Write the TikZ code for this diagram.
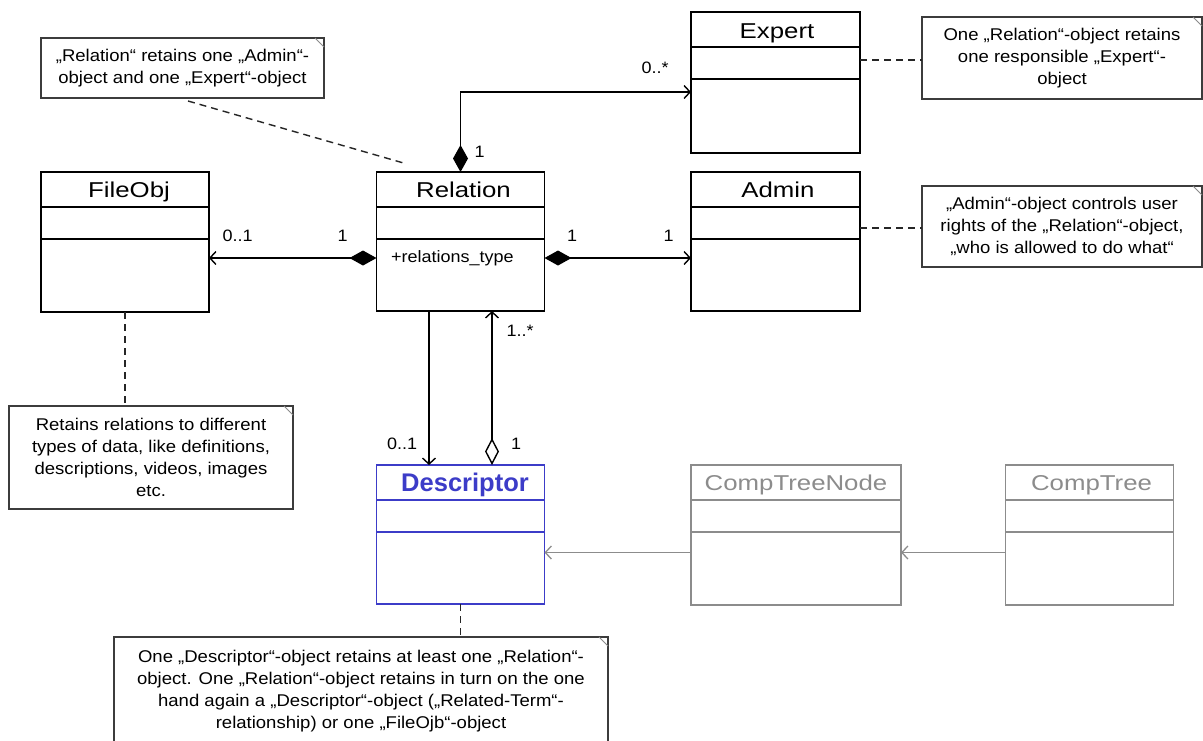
\documentclass[tikz,border=0pt]{standalone}
\usepackage{fontspec}
\setmainfont[FakeStretch=1.09]{Liberation Sans}
\newfontfamily\titlefont[FakeStretch=1.2]{Liberation Sans}
\newfontfamily\desctitlefont{Liberation Sans}
\usetikzlibrary{arrows.meta}
\definecolor{descblue}{RGB}{60,60,200}
\definecolor{greyc}{RGB}{140,140,140}
\definecolor{notec}{RGB}{60,60,60}
\newcommand\compartments[2][black]{%
  \draw[#1, line width=1.3pt] ([yshift=-35pt]#2.north west) -- ([yshift=-35pt]#2.north east)
    ([yshift=-67pt]#2.north west) -- ([yshift=-67pt]#2.north east);}
\newcommand\notefold[1]{\draw[fold] ([xshift=-9pt]#1.north east) -- ([yshift=-9pt]#1.north east);}
\begin{document}
\begin{tikzpicture}[x=1pt,y=-1pt,
  classbox/.style={draw, line width=1.3pt, minimum width=168pt, minimum height=140pt, inner sep=0pt, outer sep=0pt},
  ctitle/.style={font=\fontsize{21.5}{26}\titlefont, anchor=base, inner sep=0pt},
  notebox/.style={draw=notec, line width=1.1pt, fill=white, inner sep=0pt, outer sep=0pt, align=center, font=\fontsize{17}{22}\selectfont},
  fold/.style={draw=notec!60, line width=0.8pt},
  notelink/.style={draw=black!85, line width=1.4pt, dash pattern=on 7pt off 5pt},
  mult/.style={font=\fontsize{16.5}{19}\selectfont, inner sep=0pt},
  comp/.style={line width=1.4pt, {Diamond[length=27pt,width=15pt]}-{Straight Barb[length=6pt,width=13pt]}},
  assoc/.style={line width=1.4pt, -{Straight Barb[length=6pt,width=13pt]}},
  aggr/.style={line width=1.4pt, {Diamond[length=27pt,width=14pt,fill=white]}-{Straight Barb[length=6pt,width=13pt]}},
  grayarr/.style={draw=greyc, line width=1.3pt, -{Straight Barb[length=6pt,width=13pt]}},
]
\useasboundingbox (0,0) rectangle (1203,740);
\fill[white] (0,0) rectangle (1203,740);
\clip (0,0) rectangle (1203,740);

% classes
\node[classbox] (file) at (125,242) {};
\node[classbox, minimum height=139pt] (rel) at (460.5,241.5) {};
\node[classbox, minimum width=169pt, minimum height=139pt] (admin) at (775.5,241.5) {};
\node[classbox, minimum width=169pt, minimum height=141pt] (exp) at (775.5,82.5) {};
\node[classbox, draw=descblue, minimum height=139pt] (desc) at (460.5,534.5) {};
\node[classbox, draw=greyc, minimum width=210pt] (ctn) at (796,535) {};
\node[classbox, draw=greyc] (ct) at (1089.5,535) {};

\compartments{file}
\compartments{rel}
\compartments{admin}
\compartments{exp}
\compartments[descblue]{desc}
\compartments[greyc]{ctn}
\compartments[greyc]{ct}

\node[ctitle] (tfile) at ([xshift=4pt,yshift=-25.5pt]file.north) {FileObj};
\node[ctitle] (trel) at ([xshift=3pt,yshift=-25.5pt]rel.north) {Relation};
\node[ctitle] (tadmin) at ([xshift=2.5pt,yshift=-25.5pt]admin.north) {Admin};
\node[ctitle] (texp) at ([xshift=1.5pt,yshift=-26pt]exp.north) {Expert};
\node[ctitle, font=\fontsize{25.5}{30}\desctitlefont\bfseries, text=descblue] (tdesc) at ([xshift=4.5pt,yshift=-26pt]desc.north) {Descriptor};
\node[ctitle, text=greyc] (tctn) at ([xshift=0pt,yshift=-25.5pt]ctn.north) {CompTreeNode};
\node[ctitle, text=greyc] (tct) at ([xshift=2pt,yshift=-25.5pt]ct.north) {CompTree};

\node[mult, font=\fontsize{16.5}{19}\selectfont, anchor=base west] (attr) at (391,262) {+relations\_type};

% notes
\node[notebox, minimum width=283pt, minimum height=60pt] (nrel) at (182.5,68) {„Relation“ retains one „Admin“-\\object and one „Expert“-object};
\node[notebox, minimum width=280pt, minimum height=82pt] (nexp) at (1062,58) {One „Relation“-object retains\\one responsible „Expert“-\\object};
\node[notebox, minimum width=280pt, minimum height=81pt] (nadm) at (1062,226.5) {„Admin“-object controls user\\rights of the „Relation“-object,\\„who is allowed to do what“};
\node[notebox, minimum width=284pt, minimum height=103pt] (nfile) at (151,457.5) {Retains relations to different\\types of data, like definitions,\\descriptions, videos, images\\etc.};
\node[notebox, minimum width=494pt, minimum height=108pt] (ndesc) at (361,691) {One „Descriptor“-object retains at least one „Relation“-\\object. One „Relation“-object retains in turn on the one\\hand again a „Descriptor“-object („Related-Term“-\\relationship) or one „FileOjb“-object};
\notefold{nrel}
\notefold{nexp}
\notefold{nadm}
\notefold{nfile}
\notefold{ndesc}

% note links
\draw[notelink] ([xshift=5.5pt,yshift=-3pt]nrel.south) -- ([xshift=-53.5pt,yshift=8pt]rel.north);
\draw[notelink] (exp.east |- 0,60) -- (nexp.west |- 0,60);
\draw[notelink] (admin.east |- 0,228) -- (nadm.west |- 0,228);
\draw[notelink] (file.south) -- (file.south |- nfile.north);
\draw[notelink] (desc.south) -- (desc.south |- ndesc.north);

% associations
\draw[comp] (rel.north) |- ([yshift=-9.5pt]exp.west);
\draw[comp] ([yshift=-16.5pt]rel.west) -- ([yshift=-16.5pt]rel.west -| file.east);
\draw[comp] ([yshift=-16.5pt]rel.east) -- ([yshift=-16.5pt]rel.east -| admin.west);
\draw[assoc] ([xshift=-31.5pt]rel.south) -- ([xshift=-31.5pt]rel.south |- desc.north);
\draw[aggr] ([xshift=31.5pt]desc.north) -- ([xshift=31.5pt]desc.north |- rel.south);
\draw[grayarr] ([yshift=-17.5pt]ctn.west) -- ([yshift=-17.5pt]ctn.west -| desc.east);
\draw[grayarr] ([yshift=-17.5pt]ct.west) -- ([yshift=-17.5pt]ct.west -| ctn.east);

% multiplicities
\node[mult] (m1) at (479.5,151.5) {1};
\node[mult] (m2) at (655,67.5) {0..*};
\node[mult] (m3) at (237.5,236) {0..1};
\node[mult] (m4) at (342.5,236) {1};
\node[mult] (m5) at (572,236) {1};
\node[mult] (m6) at (668.5,236) {1};
\node[mult] (m7) at (520,331) {1..*};
\node[mult] (m8) at (402,443.5) {0..1};
\node[mult] (m9) at (516,443.5) {1};
\end{tikzpicture}
\end{document}
